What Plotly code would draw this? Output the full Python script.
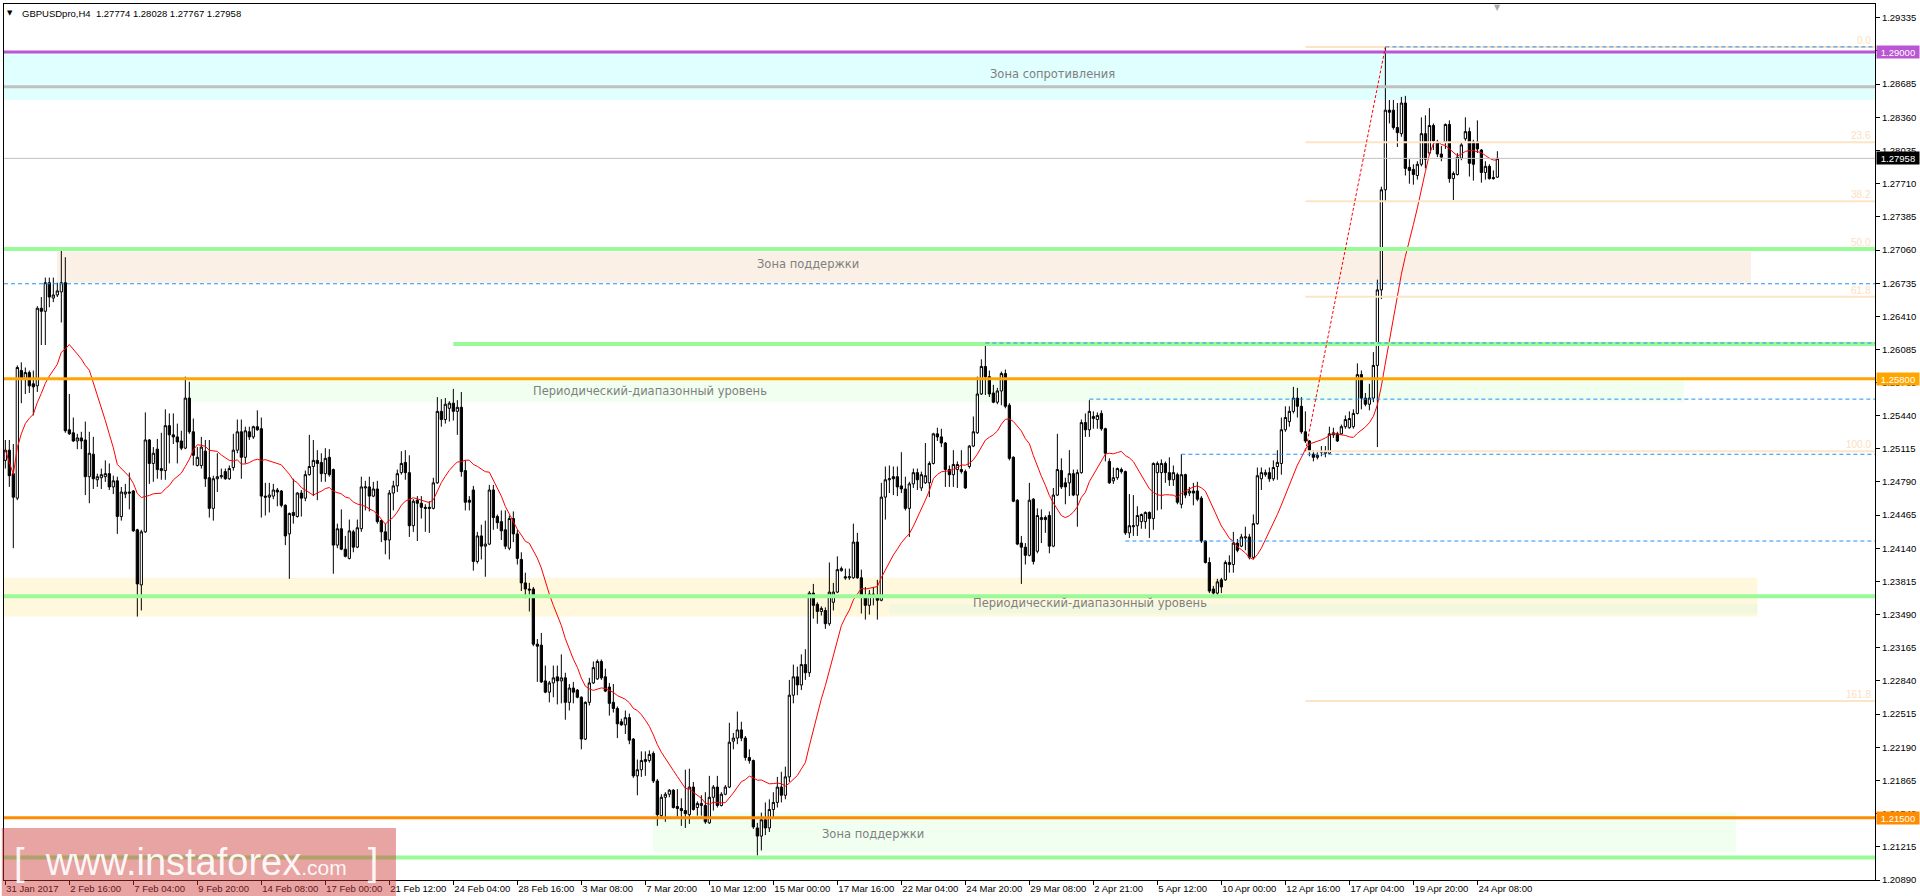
import plotly.graph_objects as go
import pandas as pd

# ---------------- data (H4 bars) ----------------
open_ = [
    1.2500,1.2510,1.2487,1.2463,1.2588,1.2580,1.2586,1.2575,1.2573,1.2649,
    1.2646,1.2674,1.2659,1.2662,1.2665,1.2674,1.2530,1.2527,1.2519,1.2522,
    1.2520,1.2484,1.2506,1.2481,1.2483,1.2484,1.2487,1.2474,1.2480,1.2445,
    1.2467,1.2469,1.2470,1.2432,1.2378,1.2430,1.2520,1.2497,1.2511,1.2492,
    1.2490,1.2534,1.2525,1.2523,1.2519,1.2512,1.2561,1.2528,1.2495,1.2495,
    1.2509,1.2483,1.2453,1.2482,1.2484,1.2489,1.2482,1.2493,1.2510,1.2528,
    1.2503,1.2528,1.2523,1.2533,
    1.2531,1.2465,1.2464,1.2465,1.2471,1.2470,1.2456,1.2428,1.2449,1.2445,
    1.2468,1.2463,1.2486,1.2494,1.2500,1.2498,1.2487,1.2503,1.2491,1.2417,
    1.2433,1.2413,1.2404,1.2430,1.2415,1.2433,1.2473,1.2474,1.2465,1.2472,
    1.2441,1.2430,1.2422,1.2468,1.2475,1.2488,1.2498,1.2488,1.2436,1.2461,
    1.2458,1.2454,1.2454,1.2453,1.2478,1.2548,1.2540,1.2551,1.2556,1.2548,
    1.2552,1.2490,1.2461,1.2471,1.2401,1.2426,1.2416,1.2418,1.2471,1.2445,
    1.2440,1.2432,1.2414,1.2443,1.2428,
    1.2403,1.2380,1.2374,1.2374,1.2320,1.2319,1.2284,1.2273,1.2282,1.2288,
    1.2284,1.2287,1.2263,1.2277,1.2275,1.2268,1.2227,1.2263,1.2282,1.2286,
    1.2303,1.2288,1.2278,1.2263,1.2257,1.2244,1.2241,1.2248,1.2227,1.2191,
    1.2197,1.2205,1.2206,1.2213,1.2186,1.2152,1.2170,1.2173,1.2177,1.2161,
    1.2159,1.2157,1.2153,1.2180,1.2160,1.2162,1.2162,1.2145,1.2170,1.2180,
    1.2162,1.2173,1.2180,1.2225,1.2228,1.2236,1.2228,1.2209,1.2206,1.2140,
    1.2132,1.2148,1.2140,1.2158,1.2165,1.2180,1.2172,1.2190,1.2270,1.2288,
    1.2280,1.2300,1.2292,1.2370,1.2359,1.2352,1.2353,1.2340,1.2361,1.2371,
    1.2392,1.2386,1.2385,1.2385,1.2420,1.2385,1.2367,1.2358,1.2369,1.2367,
    1.2363,1.2464,1.2481,1.2484,1.2484,1.2475,1.2472,1.2453,1.2477,1.2488,
    1.2473,1.2478,1.2478,1.2497,1.2526,1.2523,1.2517,1.2491,1.2486,1.2491,
    1.2491,1.2489,1.2494,1.2514,1.2527,1.2565,1.2592,1.2582,1.2566,1.2557,
    1.2568,1.2585,1.2554,
    1.2503,1.2461,1.2419,1.2415,1.2407,1.2462,1.2411,1.2442,1.2444,1.2446,
    1.2416,1.2466,1.2490,1.2478,1.2478,1.2487,1.2466,1.2488,1.2537,1.2530,
    1.2541,1.2540,1.2546,1.2531,1.2499,1.2480,1.2483,1.2491,1.2489,1.2429,
    1.2435,1.2436,1.2440,1.2440,1.2449,1.2443,1.2488,1.2488,1.2497,1.2488,
    1.2481,1.2486,1.2457,1.2486,1.2468,1.2470,1.2470,1.2463,1.2421,1.2400,
    1.2374,1.2370,1.2383,1.2383,1.2398,1.2398,1.2419,1.2416,1.2424,1.2425,
    1.2405,1.2438,
    1.2482,1.2486,1.2488,1.2482,1.2494,1.2497,1.2530,1.2538,1.2548,1.2561,
    1.2553,1.2528,1.2519,1.2506,1.2503,1.2508,1.2507,1.2507,1.2525,1.2526,
    1.2526,1.2533,1.2532,1.2533,1.2546,1.2584,1.2561,1.2555,1.2561,1.2593,
    1.2667,1.2765,1.2843,1.2843,1.2826,1.2820,1.2850,1.2787,1.2785,1.2779,
    1.2790,1.2820,1.2801,1.2828,1.2812,1.2800,1.2812,1.2829,1.2776,1.2780,
    1.2796,1.2815,1.2822,1.2812,1.2812,1.2804,1.2782,1.2788,1.2777,1.27774,
]
high = [
    1.2520,1.2520,1.2516,1.2593,1.2596,1.2591,1.2588,1.2588,1.2651,1.2660,
    1.2679,1.2679,1.2679,1.2674,1.2706,1.2699,1.2565,1.2542,1.2526,1.2528,
    1.2538,1.2528,1.2523,1.2487,1.2492,1.2500,1.2497,1.2485,1.2484,1.2474,
    1.2477,1.2488,1.2471,1.2433,1.2432,1.2547,1.2521,1.2513,1.2521,1.2527,
    1.2550,1.2546,1.2546,1.2536,1.2529,1.2582,1.2577,1.2541,1.2513,1.2523,
    1.2520,1.2520,1.2485,1.2507,1.2492,1.2492,1.2495,1.2526,1.2540,1.2540,
    1.2533,1.2533,1.2534,1.2549,
    1.2542,1.2478,1.2478,1.2477,1.2473,1.2471,1.2457,1.2449,1.2482,1.2469,
    1.2471,1.2490,1.2525,1.2520,1.2510,1.2507,1.2512,1.2511,1.2492,1.2438,
    1.2452,1.2426,1.2442,1.2432,1.2442,1.2484,1.2480,1.2484,1.2479,1.2480,
    1.2442,1.2438,1.2471,1.2480,1.2491,1.2509,1.2510,1.2505,1.2462,1.2465,
    1.2465,1.2457,1.2460,1.2483,1.2562,1.2560,1.2561,1.2558,1.2570,1.2559,
    1.2567,1.2500,1.2465,1.2475,1.2430,1.2437,1.2441,1.2476,1.2476,1.2447,
    1.2451,1.2451,1.2446,1.2450,1.2432,
    1.2410,1.2390,1.2380,1.2376,1.2325,1.2331,1.2299,1.2284,1.2299,1.2299,
    1.2310,1.2292,1.2281,1.2283,1.2276,1.2269,1.2264,1.2287,1.2303,1.2305,
    1.2305,1.2296,1.2282,1.2281,1.2259,1.2247,1.2255,1.2252,1.2228,1.2207,
    1.2215,1.2215,1.2216,1.2215,1.2188,1.2173,1.2175,1.2178,1.2178,1.2178,
    1.2169,1.2197,1.2198,1.2185,1.2166,1.2172,1.2175,1.2191,1.2182,1.2191,
    1.2175,1.2182,1.2243,1.2233,1.2254,1.2244,1.2230,1.2217,1.2207,1.2145,
    1.2155,1.2165,1.2168,1.2175,1.2190,1.2195,1.2200,1.2285,1.2300,1.2298,
    1.2310,1.2315,1.2372,1.2379,1.2361,1.2357,1.2356,1.2400,1.2380,1.2406,
    1.2396,1.2394,1.2394,1.2438,1.2429,1.2393,1.2376,1.2373,1.2376,1.2383,
    1.2478,1.2494,1.2495,1.2494,1.2494,1.2508,1.2484,1.2479,1.2492,1.2492,
    1.2489,1.2517,1.2499,1.2527,1.2532,1.2531,1.2518,1.2495,1.2510,1.2499,
    1.2510,1.2491,1.2515,1.2543,1.2582,1.2599,1.2616,1.2588,1.2574,1.2571,
    1.2587,1.2589,1.2556,
    1.2504,1.2462,1.2426,1.2419,1.2478,1.2463,1.2453,1.2452,1.2446,1.2450,
    1.2473,1.2526,1.2502,1.2483,1.2510,1.2491,1.2491,1.2540,1.2546,1.2559,
    1.2548,1.2547,1.2549,1.2532,1.2502,1.2493,1.2493,1.2493,1.2490,1.2467,
    1.2466,1.2455,1.2448,1.2450,1.2450,1.2498,1.2499,1.2501,1.2499,1.2503,
    1.2495,1.2488,1.2506,1.2487,1.2474,1.2478,1.2479,1.2465,1.2422,1.2405,
    1.2377,1.2384,1.2385,1.2402,1.2407,1.2430,1.2423,1.2428,1.2435,1.2428,
    1.2447,1.2493,
    1.2493,1.2491,1.2493,1.2500,1.2510,1.2542,1.2553,1.2553,1.2572,1.2571,
    1.2562,1.2548,1.2520,1.2510,1.2508,1.2514,1.2514,1.2533,1.2532,1.2528,
    1.2535,1.2544,1.2548,1.2550,1.2595,1.2588,1.2566,1.2575,1.2606,1.2677,
    1.2768,1.2904,1.2853,1.2853,1.2850,1.2856,1.2857,1.2795,1.2790,1.2793,
    1.2836,1.2838,1.2845,1.2830,1.2814,1.2808,1.2830,1.2833,1.2783,1.2801,
    1.2811,1.2836,1.2826,1.2814,1.2833,1.2805,1.2793,1.2790,1.2784,1.28028,
]
low = [
    1.2492,1.2474,1.2414,1.2461,1.2556,1.2565,1.2566,1.2544,1.2567,1.2613,
    1.2613,1.2650,1.2655,1.2660,1.2635,1.2527,1.2525,1.2518,1.2511,1.2511,
    1.2466,1.2458,1.2472,1.2474,1.2472,1.2479,1.2471,1.2467,1.2428,1.2441,
    1.2463,1.2452,1.2430,1.2347,1.2353,1.2429,1.2477,1.2479,1.2482,1.2481,
    1.2481,1.2497,1.2516,1.2497,1.2510,1.2511,1.2526,1.2495,1.2494,1.2492,
    1.2474,1.2444,1.2441,1.2469,1.2482,1.2481,1.2481,1.2490,1.2507,1.2482,
    1.2497,1.2520,1.2521,1.2529,
    1.2444,1.2446,1.2449,1.2462,1.2455,1.2454,1.2417,1.2384,1.2438,1.2444,
    1.2445,1.2460,1.2485,1.2465,1.2461,1.2479,1.2479,1.2484,1.2389,1.2414,
    1.2412,1.2405,1.2403,1.2410,1.2414,1.2430,1.2451,1.2450,1.2464,1.2438,
    1.2420,1.2408,1.2403,1.2451,1.2469,1.2486,1.2481,1.2425,1.2430,1.2421,
    1.2443,1.2430,1.2429,1.2452,1.2477,1.2533,1.2536,1.2538,1.2539,1.2525,
    1.2484,1.2451,1.2451,1.2392,1.2399,1.2403,1.2386,1.2417,1.2432,1.2433,
    1.2422,1.2413,1.2412,1.2420,1.2398,
    1.2372,1.2365,1.2352,1.2318,1.2283,1.2282,1.2272,1.2263,1.2268,1.2261,
    1.2262,1.2246,1.2255,1.2262,1.2267,1.2217,1.2226,1.2260,1.2281,1.2285,
    1.2285,1.2273,1.2250,1.2253,1.2228,1.2240,1.2232,1.2222,1.2189,1.2172,
    1.2190,1.2191,1.2204,1.2184,1.2142,1.2150,1.2146,1.2170,1.2159,1.2151,
    1.2142,1.2140,1.2144,1.2157,1.2152,1.2152,1.2144,1.2144,1.2157,1.2160,
    1.2161,1.2172,1.2179,1.2217,1.2222,1.2225,1.2206,1.2203,1.2139,1.2113,
    1.2118,1.2133,1.2136,1.2150,1.2160,1.2165,1.2168,1.2185,1.2262,1.2270,
    1.2275,1.2285,1.2288,1.2345,1.2340,1.2348,1.2335,1.2338,1.2353,1.2370,
    1.2391,1.2383,1.2383,1.2384,1.2384,1.2350,1.2344,1.2349,1.2358,1.2344,
    1.2362,1.2442,1.2468,1.2466,1.2465,1.2468,1.2451,1.2425,1.2473,1.2471,
    1.2470,1.2477,1.2464,1.2496,1.2519,1.2513,1.2474,1.2474,1.2474,1.2473,
    1.2487,1.2472,1.2492,1.2513,1.2526,1.2564,1.2564,1.2562,1.2556,1.2555,
    1.2554,1.2551,1.2500,
    1.2459,1.2417,1.2379,1.2398,1.2406,1.2398,1.2409,1.2419,1.2429,1.2409,
    1.2415,1.2465,1.2472,1.2457,1.2465,1.2465,1.2435,1.2487,1.2523,1.2523,
    1.2531,1.2531,1.2529,1.2499,1.2477,1.2477,1.2481,1.2487,1.2427,1.2424,
    1.2426,1.2426,1.2433,1.2433,1.2424,1.2432,1.2451,1.2452,1.2478,1.2475,
    1.2475,1.2457,1.2453,1.2463,1.2465,1.2456,1.2460,1.2419,1.2399,1.2370,
    1.2366,1.2368,1.2370,1.2382,1.2390,1.2390,1.2410,1.2415,1.2412,1.2403,
    1.2403,1.2437,
    1.2471,1.2484,1.2479,1.2480,1.2481,1.2486,1.2528,1.2533,1.2546,1.2542,
    1.2526,1.2517,1.2504,1.2499,1.2501,1.2504,1.2503,1.2506,1.2522,1.2518,
    1.2525,1.2531,1.2531,1.2531,1.2545,1.2550,1.2553,1.2549,1.2557,1.2513,
    1.2658,1.2753,1.2830,1.2824,1.2807,1.2817,1.2779,1.2771,1.2770,1.2775,
    1.2788,1.2786,1.2799,1.2804,1.2797,1.2793,1.2805,1.2772,1.2755,1.2779,
    1.2794,1.2813,1.2778,1.2774,1.2801,1.2772,1.2775,1.2775,1.2775,1.27767,
]
close = [
    1.2510,1.2485,1.2464,1.2591,1.2580,1.2586,1.2573,1.2572,1.2649,1.2646,
    1.2674,1.2660,1.2662,1.2666,1.2674,1.2529,1.2526,1.2519,1.2522,1.2519,
    1.2484,1.2507,1.2482,1.2484,1.2486,1.2487,1.2474,1.2480,1.2445,1.2469,
    1.2469,1.2468,1.2431,1.2379,1.2430,1.2520,1.2497,1.2507,1.2491,1.2490,
    1.2534,1.2525,1.2523,1.2518,1.2512,1.2561,1.2528,1.2505,1.2503,1.2513,
    1.2482,1.2453,1.2482,1.2484,1.2485,1.2482,1.2492,1.2510,1.2528,1.2503,
    1.2529,1.2523,1.2533,1.2530,
    1.2465,1.2464,1.2466,1.2471,1.2469,1.2456,1.2426,1.2448,1.2446,1.2468,
    1.2463,1.2486,1.2494,1.2500,1.2497,1.2487,1.2502,1.2486,1.2417,1.2433,
    1.2413,1.2406,1.2431,1.2415,1.2434,1.2474,1.2474,1.2465,1.2472,1.2440,
    1.2430,1.2422,1.2468,1.2475,1.2487,1.2497,1.2488,1.2436,1.2460,1.2458,
    1.2454,1.2453,1.2453,1.2478,1.2548,1.2540,1.2555,1.2556,1.2548,1.2552,
    1.2489,1.2459,1.2459,1.2401,1.2426,1.2416,1.2418,1.2471,1.2444,1.2439,
    1.2431,1.2416,1.2443,1.2428,1.2404,
    1.2380,1.2374,1.2373,1.2320,1.2318,1.2283,1.2273,1.2282,1.2287,1.2284,
    1.2287,1.2263,1.2277,1.2273,1.2268,1.2227,1.2263,1.2282,1.2297,1.2303,
    1.2287,1.2274,1.2262,1.2257,1.2242,1.2241,1.2248,1.2226,1.2191,1.2197,
    1.2206,1.2207,1.2212,1.2186,1.2153,1.2170,1.2173,1.2177,1.2160,1.2159,
    1.2157,1.2154,1.2180,1.2158,1.2164,1.2164,1.2146,1.2170,1.2180,1.2162,
    1.2173,1.2180,1.2224,1.2228,1.2236,1.2228,1.2209,1.2206,1.2141,1.2132,
    1.2148,1.2140,1.2158,1.2165,1.2180,1.2172,1.2190,1.2270,1.2288,1.2280,
    1.2300,1.2292,1.2370,1.2358,1.2352,1.2355,1.2340,1.2371,1.2371,1.2393,
    1.2394,1.2385,1.2386,1.2420,1.2385,1.2367,1.2358,1.2369,1.2367,1.2363,
    1.2464,1.2481,1.2482,1.2482,1.2474,1.2472,1.2453,1.2477,1.2488,1.2481,
    1.2486,1.2485,1.2497,1.2526,1.2523,1.2517,1.2491,1.2486,1.2496,1.2496,
    1.2489,1.2473,1.2514,1.2528,1.2565,1.2592,1.2582,1.2565,1.2557,1.2568,
    1.2585,1.2553,1.2502,
    1.2460,1.2418,1.2415,1.2407,1.2461,1.2401,1.2446,1.2444,1.2442,1.2416,
    1.2466,1.2491,1.2474,1.2474,1.2487,1.2466,1.2488,1.2537,1.2530,1.2548,
    1.2543,1.2544,1.2531,1.2507,1.2478,1.2483,1.2492,1.2489,1.2429,1.2436,
    1.2436,1.2446,1.2447,1.2449,1.2443,1.2497,1.2497,1.2497,1.2488,1.2481,
    1.2488,1.2459,1.2486,1.2466,1.2470,1.2468,1.2462,1.2421,1.2400,1.2372,
    1.2370,1.2381,1.2376,1.2400,1.2400,1.2419,1.2412,1.2425,1.2425,1.2405,
    1.2438,1.2485,
    1.2488,1.2488,1.2482,1.2493,1.2498,1.2530,1.2542,1.2548,1.2561,1.2553,
    1.2528,1.2519,1.2510,1.2503,1.2505,1.2509,1.2509,1.2526,1.2527,1.2519,
    1.2533,1.2540,1.2541,1.2546,1.2584,1.2561,1.2555,1.2561,1.2593,1.2667,
    1.2765,1.2843,1.2841,1.2826,1.2821,1.2850,1.2786,1.2784,1.2780,1.2790,
    1.2820,1.2795,1.2828,1.2813,1.2800,1.2797,1.2829,1.2776,1.2781,1.2797,
    1.2809,1.2822,1.2791,1.2790,1.2805,1.2782,1.2788,1.2776,1.2776,1.27958,
]

x_tick_bars = [0, 16, 32, 48, 64, 80, 96, 112, 128, 144, 160, 176,
               192, 208, 224, 240, 256, 272, 288, 304, 320, 336, 352, 368]
x_tick_labels = ["31 Jan 2017", "2 Feb 16:00", "7 Feb 04:00", "9 Feb 20:00",
                 "14 Feb 08:00", "17 Feb 00:00", "21 Feb 12:00", "24 Feb 04:00",
                 "28 Feb 16:00", "3 Mar 08:00", "7 Mar 20:00", "10 Mar 12:00",
                 "15 Mar 00:00", "17 Mar 16:00", "22 Mar 04:00", "24 Mar 20:00",
                 "29 Mar 08:00", "2 Apr 21:00", "5 Apr 12:00", "10 Apr 00:00",
                 "12 Apr 16:00", "17 Apr 04:00", "19 Apr 20:00", "24 Apr 08:00"]
y_tick_values = [1.20890, 1.21215, 1.21540, 1.21865, 1.22190, 1.22515, 1.22840,
                 1.23165, 1.23490, 1.23815, 1.24140, 1.24465, 1.24790, 1.25115,
                 1.25440, 1.25765, 1.26085, 1.26410, 1.26735, 1.27060, 1.27385,
                 1.27710, 1.28035, 1.28360, 1.28685, 1.29010, 1.29335]
y_hidden_ticks = [1.29010]   # fully covered by the 1.29000 marker in the picture
ma_period = 14

# chart objects (levels in price, extents in bar numbers)
resistance_zone = (1.2853, 1.2900)
support_zone_top = (1.2674, 1.2704, 12.9, 436.4)
range_zone_top = (1.2557, 1.2580, 45.7, 419.7)
range_zone_low = (1.2347, 1.2385, 438.0)
range_zone_low_inner = (1.2350, 1.2359, 220.9, 438.0)
support_zone_bottom = (1.2116, 1.2155, 161.9, 432.7)
purple_level = 1.2900
gray_level = 1.2866
green_levels_full = [1.2707, 1.2367, 1.2111]
green_partial = (1.2614, 112)
orange_level = 1.2580
darkorange_level = 1.2150
current_price = 1.27958
fib_start_bar, fib_low = 325, 1.2509
fib_end_bar, fib_high = 345, 1.2905
fib_ratios = [0.0, 23.6, 38.2, 50.0, 61.8, 100.0, 161.8]
blue_dashed = [(1.2673, None), (1.2615, 245), (1.2560, 271), (1.2506, 294),
               (1.2421, 280), (1.2905, 345)]
header = "GBPUSDpro,H4\u00a0\u00a01.27774 1.28028 1.27767 1.27958"

# ---------------- figure ----------------
X_MIN, X_MAX = -0.33, 467.4
Y_MIN, Y_MAX = 1.2089, 1.2947
bars = list(range(len(close)))
ma = pd.Series(close).rolling(ma_period, min_periods=1).mean()

small_font = dict(family="Liberation Sans, Arial, sans-serif", size=9.5, color="#000000")

fig = go.Figure()
fig.add_trace(go.Candlestick(
    x=bars, open=open_, high=high, low=low, close=close,
    increasing=dict(line=dict(color="#000000", width=1), fillcolor="#FFFFFF"),
    decreasing=dict(line=dict(color="#000000", width=1), fillcolor="#000000"),
    whiskerwidth=0, hoverinfo="skip", showlegend=False))
fig.add_trace(go.Scatter(x=bars, y=ma, mode="lines", hoverinfo="skip",
                         line=dict(color="#FF0000", width=1), showlegend=False))

shapes = []

def rect(x0, x1, y0, y1, color, xref="x"):
    shapes.append(dict(type="rect", xref=xref, yref="y", x0=x0, x1=x1, y0=y0, y1=y1,
                       fillcolor=color, line=dict(width=0), layer="below"))

def hline(y, x0, color, width, dash="solid"):
    if x0 is None:
        shapes.append(dict(type="line", xref="paper", yref="y", x0=0, x1=1, y0=y, y1=y,
                           line=dict(color=color, width=width, dash=dash), layer="above"))
    else:
        shapes.append(dict(type="line", xref="x", yref="y", x0=x0, x1=X_MAX, y0=y, y1=y,
                           line=dict(color=color, width=width, dash=dash), layer="above"))

# zones
rect(0, 1, resistance_zone[0], resistance_zone[1], "#E0FFFF", xref="paper")
rect(support_zone_top[2], support_zone_top[3], support_zone_top[0], support_zone_top[1], "#FAF0E6")
rect(range_zone_top[2], range_zone_top[3], range_zone_top[0], range_zone_top[1], "#F0FFF0")
rect(X_MIN, range_zone_low[2], range_zone_low[0], range_zone_low[1], "#FFF8DC")
rect(range_zone_low_inner[2], range_zone_low_inner[3], range_zone_low_inner[0],
     range_zone_low_inner[1], "#F2F8E0")
rect(support_zone_bottom[2], support_zone_bottom[3], support_zone_bottom[0],
     support_zone_bottom[1], "#F0FFF0")

# lines
hline(current_price, None, "#C0C0C0", 1)
fib_levels = [fib_high - r / 100.0 * (fib_high - fib_low) for r in fib_ratios]
for lv in fib_levels:
    hline(lv, fib_start_bar, "#FCE4C6", 2)
hline(gray_level, None, "#C0C0C0", 3)
hline(purple_level, None, "#BA55D3", 3)
for lv in green_levels_full:
    hline(lv, None, "#98FB98", 4)
hline(green_partial[0], green_partial[1], "#98FB98", 4)
hline(orange_level, None, "#FFA500", 3)
hline(darkorange_level, None, "#FF8C00", 3)
for lv, start in blue_dashed:
    hline(lv, start, "#1E90FF", 1, dash="4px,3px")
shapes.append(dict(type="line", xref="x", yref="y", x0=fib_start_bar, y0=fib_low,
                   x1=fib_end_bar, y1=fib_high,
                   line=dict(color="#FF0000", width=1, dash="3px,2px"), layer="above"))

# watermark box
shapes.append(dict(type="rect", xref="paper", yref="paper", x0=-0.0012, x1=0.2095,
                   y0=-0.0183, y1=0.0594, fillcolor="rgba(205,50,50,0.45)",
                   line=dict(width=0), layer="above"))

annotations = []
zone_font = dict(family="DejaVu Sans, sans-serif", size=11.5, color="#808080")
for text, xb, yp in [("Зона сопротивления", 261.9, 1.28789),
                     ("Зона поддержки", 200.7, 1.26919),
                     ("Периодический-диапазонный уровень", 161.2, 1.25684),
                     ("Периодический-диапазонный уровень", 271.2, 1.23608),
                     ("Зона поддержки", 216.9, 1.21341)]:
    annotations.append(dict(x=xb, y=yp, xref="x", yref="y", text=text, showarrow=False,
                            font=zone_font, xanchor="center", yanchor="middle"))

for r, lv in zip(fib_ratios, fib_levels):
    annotations.append(dict(x=1, y=lv, xref="paper", yref="y", text=f"{r:.1f}",
                            showarrow=False, xanchor="right", yanchor="bottom",
                            xshift=-2, yshift=-1,
                            font=dict(family="Liberation Sans, Arial, sans-serif",
                                      size=10, color="#FCE0C0")))

for lv, bg in [(purple_level, "#BA55D3"), (current_price, "#000000"),
               (orange_level, "#FFA500"), (darkorange_level, "#FF8C00")]:
    annotations.append(dict(x=1, y=lv, xref="paper", yref="y", text=f"{lv:.5f}",
                            showarrow=False, xanchor="left", yanchor="middle", xshift=1,
                            bgcolor=bg, borderpad=0, width=42, height=12, align="center",
                            font=dict(family="Liberation Sans, Arial, sans-serif",
                                      size=9.5, color="#FFFFFF")))

annotations.append(dict(x=0.0086, y=0.9897, xref="paper", yref="paper", text=header,
                        showarrow=False, xanchor="left", yanchor="middle", font=small_font))
annotations.append(dict(x=0.0033, y=0.9897, xref="paper", yref="paper", text="▼",
                        showarrow=False, xanchor="center", yanchor="middle",
                        font=dict(family="DejaVu Sans, sans-serif", size=7, color="#000000")))
annotations.append(dict(x=len(close) - 1, y=1.0, xref="x", yref="paper", text="▼",
                        showarrow=False, xanchor="center", yanchor="top", yshift=3,
                        font=dict(family="DejaVu Sans, sans-serif", size=8, color="#A9A9A9")))
annotations.append(dict(x=0.1026, y=0.0205, xref="paper", yref="paper",
                        text="[\u00a0\u00a0www.instaforex<span style='font-size:21px'>.com</span>\u00a0\u00a0]",
                        showarrow=False, xanchor="center", yanchor="middle",
                        font=dict(family="Liberation Sans, Arial, sans-serif", size=38,
                                  color="rgba(255,255,255,0.92)")))

fig.update_layout(
    width=1920, height=896,
    margin=dict(l=4, r=45, t=4, b=16, autoexpand=False),
    paper_bgcolor="#FFFFFF", plot_bgcolor="#FFFFFF",
    showlegend=False, shapes=shapes, annotations=annotations,
    boxgap=0.25, boxgroupgap=0.25,
    xaxis=dict(range=[X_MIN, X_MAX], rangeslider=dict(visible=False),
               tickmode="array", tickvals=x_tick_bars, ticktext=x_tick_labels,
               ticklabelposition="outside right", ticks="outside", ticklen=4,
               tickangle=0, automargin=False,
               tickcolor="#000000", tickfont=small_font, showgrid=False, zeroline=False,
               showline=True, linecolor="#000000", linewidth=1, mirror=True,
               fixedrange=True),
    yaxis=dict(range=[Y_MIN, Y_MAX], side="right", tickmode="array",
               tickvals=y_tick_values,
               ticktext=["" if v in y_hidden_ticks else f"{v:.5f}" for v in y_tick_values],
               ticks="outside", ticklen=4, tickcolor="#000000", tickfont=small_font,
               automargin=False,
               showgrid=False, zeroline=False, showline=True, linecolor="#000000",
               linewidth=1, mirror=True, fixedrange=True),
)

fig.write_html("out.html", config={"displayModeBar": False},
               post_script="document.body.style.margin='0';document.body.style.overflow='hidden';")
